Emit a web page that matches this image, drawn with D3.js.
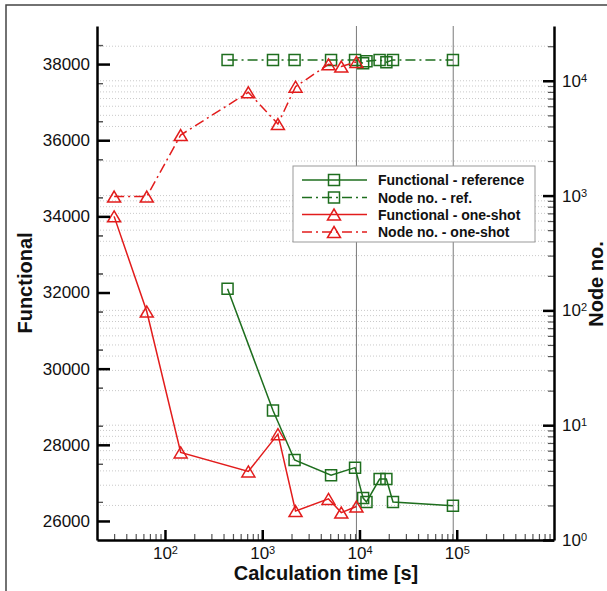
<!DOCTYPE html>
<html>
<head>
<meta charset="utf-8">
<script src="https://cdn.jsdelivr.net/npm/d3@7"></script>
<style>
  body { margin: 0; background: #fff; }
  svg { display: block; font-family: "Liberation Sans", Arial, sans-serif; }
</style>
</head>
<body>
<svg id="chart" width="607" height="591"></svg>
<script>
// One-shot adaptation runs
const oneShotTime = [30, 65, 145, 720, 1450, 2200, 4800, 6500, 9300];
const oneShotFunctional = [34000, 31500, 27800, 27300, 28280, 26260, 26580, 26220, 26380];
const oneShotNodes = [980, 980, 3370, 7940, 4200, 8890, 13900, 13300, 14600];

// Reference runs
const refTime = [440, 1290, 2150, 5100, 9000, 10900, 11800, 16100, 18900, 22100, 91400];
const refFunctional = [32100, 28900, 27600, 27200, 27400, 26600, 26500, 27100, 27100, 26500, 26400];
const refNodes = [15200, 15200, 15200, 15200, 15200, 14200, 14800, 15200, 14500, 15200, 15200];

// Vertical guide lines (calculation time)
const guideTimes = [9300, 92000];

// Tick values
const functionalTicks = [26000, 28000, 30000, 32000, 34000, 36000, 38000];
const timeDecades = [100, 1000, 10000, 100000];
const nodeDecades = [1, 10, 100, 1000, 10000];

const legendLabels = ["Functional - reference", "Node no. - ref.", "Functional - one-shot", "Node no. - one-shot"];

const GREEN = "#1e6e1e";
const RED = "#e21c1c";
const DASHDOT = "10,4,2,4";

const svg = d3.select("#chart");
const L = 97, R = 554, T = 26, B = 540;

const x = d3.scaleLog().domain([20, 1e6]).range([L, R]);
const yF = d3.scaleLinear().domain([25500, 39000]).range([B, T]);
const yN = d3.scaleLog().domain([1, 3e4]).range([B, T]);

// Outer frame
svg.append("path").attr("d", "M6,591V5H607").attr("fill", "none").attr("stroke", "#444").attr("stroke-width", 1.5);

// Log minor values helper
function logValues(lo, hi) {
  const out = [];
  for (let k = -1; k <= 7; k++) {
    for (let m = 1; m <= 9; m++) {
      const v = m * Math.pow(10, k);
      if (v > lo * 1.0001 && v < hi * 0.9999) out.push(v);
    }
  }
  return out;
}

// Dotted horizontal grid at node-number ticks
const gridVals = logValues(1, 3e4);
svg.append("g").selectAll("line").data(gridVals).join("line")
  .attr("x1", L).attr("x2", R)
  .attr("y1", d => yN(d)).attr("y2", d => yN(d))
  .attr("stroke", "#c9c9c9").attr("stroke-width", 1).attr("stroke-dasharray", "1,2");

// Vertical guide lines
svg.append("g").selectAll("line").data(guideTimes).join("line")
  .attr("x1", d => x(d)).attr("x2", d => x(d))
  .attr("y1", T).attr("y2", B)
  .attr("stroke", "#7a7a7a").attr("stroke-width", 1);

// Series
const series = [
  { t: refTime, v: refFunctional, y: yF, color: GREEN, dash: null, marker: "square" },
  { t: refTime, v: refNodes, y: yN, color: GREEN, dash: DASHDOT, marker: "square" },
  { t: oneShotTime, v: oneShotFunctional, y: yF, color: RED, dash: null, marker: "triangle" },
  { t: oneShotTime, v: oneShotNodes, y: yN, color: RED, dash: DASHDOT, marker: "triangle" }
];

function markerPath(kind) {
  if (kind === "square") return "M-5.5,-5.5H5.5V5.5H-5.5Z";
  return "M0,-5.5L6.5,5.5L-6.5,5.5Z";
}

series.forEach(s => {
  const pts = s.t.map((t, i) => [t, s.v[i]]);
  const line = d3.line().x(d => x(d[0])).y(d => s.y(d[1]));
  svg.append("path").datum(pts)
    .attr("d", line)
    .attr("fill", "none").attr("stroke", s.color).attr("stroke-width", 1.5)
    .attr("stroke-dasharray", s.dash);
  svg.append("g").selectAll("path").data(pts).join("path")
    .attr("d", markerPath(s.marker))
    .attr("transform", d => `translate(${x(d[0])},${s.y(d[1])})`)
    .attr("fill", "none").attr("stroke", s.color).attr("stroke-width", 1.5);
});

// Legend
const lg = svg.append("g").attr("transform", "translate(293,166)");
lg.append("rect").attr("width", 242).attr("height", 76)
  .attr("fill", "#fff").attr("stroke", "#999").attr("stroke-width", 1);
const rowY = [14, 31.5, 48.5, 66];
series.forEach((s, i) => {
  const g = lg.append("g").attr("transform", `translate(0,${rowY[i]})`);
  g.append("line").attr("x1", 9).attr("x2", 74).attr("y1", 0).attr("y2", 0)
    .attr("stroke", s.color).attr("stroke-width", 1.5).attr("stroke-dasharray", s.dash);
  g.append("path").attr("d", markerPath(s.marker)).attr("transform", "translate(41,0)")
    .attr("fill", "none").attr("stroke", s.color).attr("stroke-width", 1.5);
  g.append("text").attr("x", 85).attr("y", 5)
    .attr("font-size", 14).attr("font-weight", "bold").attr("fill", "#111")
    .text(legendLabels[i]);
});

// Superscript labels for decades
function powerLabels(sel) {
  sel.each(function(d) {
    const t = d3.select(this).text(null);
    t.append("tspan").text("10");
    t.append("tspan").attr("dy", "-0.45em").attr("font-size", "11px")
      .text(Math.round(Math.log10(d)));
  });
}

function styleAxis(g, width) {
  g.select(".domain").attr("stroke", "#000").attr("stroke-width", width);
  g.selectAll(".tick line").attr("stroke", "#000").attr("stroke-width", 2.5);
  g.selectAll(".tick text").attr("fill", "#111").attr("font-size", 17);
  g.attr("font-family", null);
}

// Left axis: functional
const leftMinor = d3.range(26500, 39000, 1000).concat(d3.range(25500, 39001, 1000)).filter(v => v > 25500 && v < 39000);
const gLm = svg.append("g").attr("transform", `translate(${L},0)`)
  .call(d3.axisLeft(yF).tickValues(leftMinor).tickSize(-6).tickFormat(""));
gLm.select(".domain").remove();
gLm.selectAll(".tick line").attr("stroke", "#555").attr("stroke-width", 1.2);

const gL = svg.append("g").attr("transform", `translate(${L},0)`)
  .call(d3.axisLeft(yF).tickValues(functionalTicks).tickSize(-13).tickSizeOuter(0)
    .tickPadding(7).tickFormat(d3.format("d")));
styleAxis(gL, 2.5);

// Bottom axis: calculation time
const bottomMinor = logValues(20, 1e6).filter(v => !timeDecades.includes(v));
const gBm = svg.append("g").attr("transform", `translate(0,${B})`)
  .call(d3.axisBottom(x).tickValues(bottomMinor).tickSize(-6).tickFormat(""));
gBm.select(".domain").remove();
gBm.selectAll(".tick line").attr("stroke", "#555").attr("stroke-width", 1.2);

const gB = svg.append("g").attr("transform", `translate(0,${B})`)
  .call(d3.axisBottom(x).tickValues(timeDecades).tickSize(-10).tickSizeOuter(0).tickPadding(7));
styleAxis(gB, 2.5);
gB.selectAll(".tick text").call(powerLabels);

// Right axis: node number
const rightMinor = logValues(1, 3e4).filter(v => !nodeDecades.includes(v));
const gRm = svg.append("g").attr("transform", `translate(${R},0)`)
  .call(d3.axisRight(yN).tickValues(rightMinor).tickSize(-6).tickFormat(""));
gRm.select(".domain").remove();
gRm.selectAll(".tick line").attr("stroke", "#555").attr("stroke-width", 1.2);

const gR = svg.append("g").attr("transform", `translate(${R},0)`)
  .call(d3.axisRight(yN).tickValues(nodeDecades).tickSize(-11).tickSizeOuter(0).tickPadding(8));
styleAxis(gR, 2.5);
gR.selectAll(".tick text").call(powerLabels);

// Axis titles
svg.append("text").attr("transform", "translate(32,283) rotate(-90)")
  .attr("text-anchor", "middle").attr("font-size", 20).attr("font-weight", "bold").attr("fill", "#111")
  .text("Functional");
svg.append("text").attr("x", 326).attr("y", 580)
  .attr("text-anchor", "middle").attr("font-size", 20).attr("font-weight", "bold").attr("fill", "#111")
  .text("Calculation time [s]");
svg.append("text").attr("transform", "translate(603,284) rotate(-90)")
  .attr("text-anchor", "middle").attr("font-size", 20).attr("font-weight", "bold").attr("fill", "#111")
  .text("Node no.");
</script>
</body>
</html>
